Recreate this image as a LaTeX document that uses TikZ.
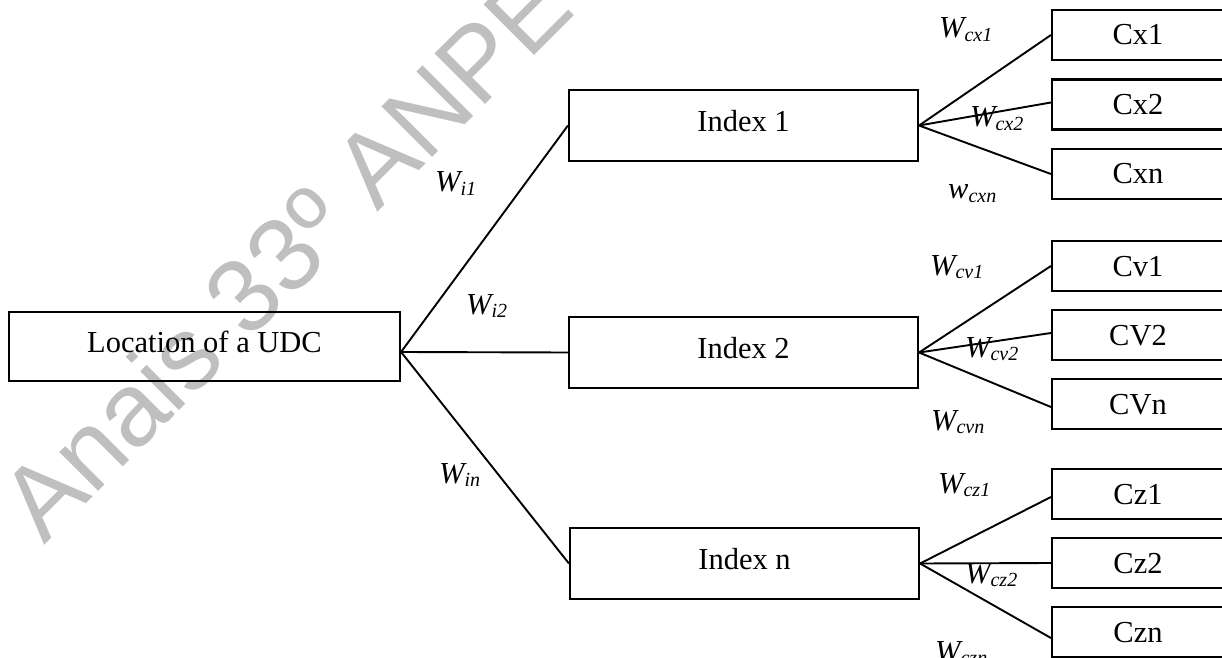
\documentclass[tikz,border=0pt]{standalone}
\usepackage{fontspec}
\setmainfont{Liberation Serif}
\newfontfamily\wmfont{Liberation Sans}
\newcommand\Wsub[2]{#1\raisebox{-0.11em}{\fontsize{20bp}{20bp}\selectfont #2}}
\tikzset{
  bigbox/.style={draw, line width=2.1bp, inner sep=0pt, minimum width=349bp, minimum height=71bp,
     font=\fontsize{30.5bp}{36bp}\selectfont, text height=20bp, text depth=8bp},
  cbox/.style={draw, line width=2.1bp, inner sep=0pt, minimum width=172bp, minimum height=50bp,
     font=\fontsize{30.5bp}{36bp}\selectfont, text height=20bp, text depth=0bp},
  conn/.style={line width=1.9bp},
  lab/.style={anchor=base west, inner sep=0pt, font=\fontsize{30.5bp}{36bp}\selectfont\itshape},
  wmark/.style={anchor=base west, inner sep=0pt, rotate=45, text=black!25,
     font=\wmfont\fontsize{104bp}{104bp}\selectfont}
}
\begin{document}
\begin{tikzpicture}[x=1bp,y=-1bp]
\useasboundingbox (0,0) rectangle (1222,658);
\clip (0,0) rectangle (1222,658);
% watermark
\node[wmark] (wm) at (44,546) {Anais 33º ANPEC};
% main boxes
\node[bigbox, minimum width=391bp, minimum height=69bp] (loc) at (204.5,346.5) {Location of a UDC};
\node[bigbox] (i1) at (743.5,125.5) {Index 1};
\node[bigbox] (i2) at (743.5,352.5) {Index 2};
\node[bigbox] (in) at (744.5,563.5) {Index n};
% right boxes
\node[cbox] (cx1) at (1138,35) {Cx1};
\node[cbox] (cx2) at (1138,104.5) {Cx2};
\node[cbox] (cxn) at (1138,174) {Cxn};
\node[cbox] (cv1) at (1138,266) {Cv1};
\node[cbox] (cv2) at (1138,335) {CV2};
\node[cbox] (cvn) at (1138,404) {CVn};
\node[cbox] (cz1) at (1138,494) {Cz1};
\node[cbox] (cz2) at (1138,563) {Cz2};
\node[cbox] (czn) at (1138,632) {Czn};
% connectors
\coordinate (hub) at ([yshift=-5.5bp]loc.east);
\draw[conn] (hub) -- (i1.west);
\draw[conn] (hub) -- (i2.west);
\draw[conn] (hub) -- (in.west);
\draw[conn] (i1.east) -- (cx1.west);
\draw[conn] (i1.east) -- ([yshift=2bp]cx2.west);
\draw[conn] (i1.east) -- (cxn.west);
\draw[conn] (i2.east) -- (cv1.west);
\draw[conn] (i2.east) -- ([yshift=2bp]cv2.west);
\draw[conn] (i2.east) -- ([yshift=-3bp]cvn.west);
\draw[conn] (in.east) -- ([yshift=-3bp]cz1.west);
\draw[conn] (in.east) -- (cz2.west);
\draw[conn] (in.east) -- ([yshift=-6bp]czn.west);
% labels
\node[lab] (wi1) at (435,192) {\Wsub{W}{i1}};
\node[lab] (wi2) at (466,314) {\Wsub{W}{i2}};
\node[lab] (win) at (439,483) {\Wsub{W}{in}};
\node[lab] (wcx1) at (939,38) {\Wsub{W}{cx1}};
\node[lab] (wcx2) at (970,127) {\Wsub{W}{cx2}};
\node[lab] (wcxn) at (948,199) {\Wsub{w}{cxn}};
\node[lab] (wcv1) at (930,275) {\Wsub{W}{cv1}};
\node[lab] (wcv2) at (965,357) {\Wsub{W}{cv2}};
\node[lab] (wcvn) at (931,430) {\Wsub{W}{cvn}};
\node[lab] (wcz1) at (938,493) {\Wsub{W}{cz1}};
\node[lab] (wcz2) at (965,583) {\Wsub{W}{cz2}};
\node[lab] (wczn) at (935,661) {\Wsub{W}{czn}};
\end{tikzpicture}
\end{document}
